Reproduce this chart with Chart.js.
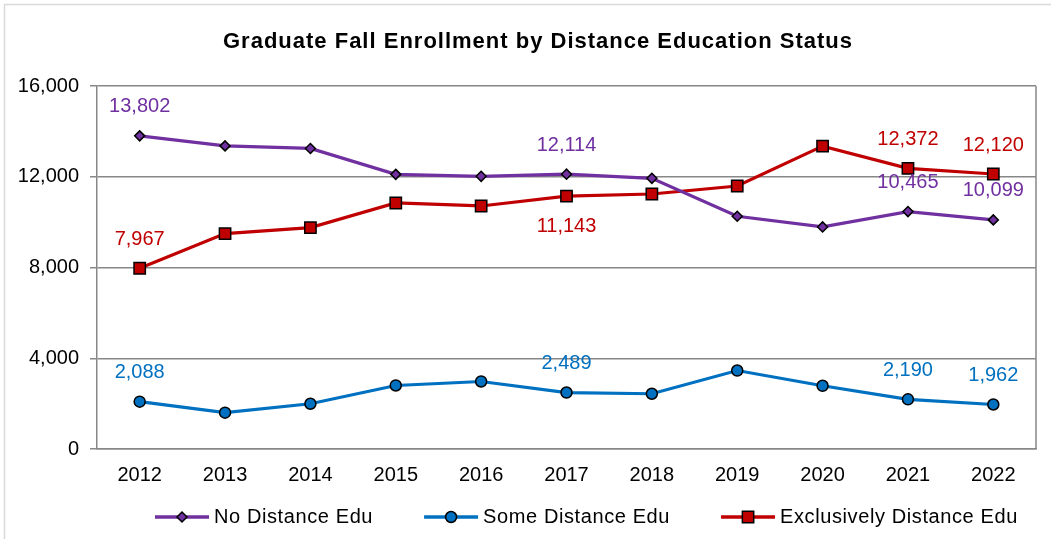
<!DOCTYPE html>
<html>
<head>
<meta charset="utf-8">
<title>Graduate Fall Enrollment by Distance Education Status</title>
<script src="https://cdn.jsdelivr.net/npm/chart.js@4.4.1/dist/chart.umd.min.js"></script>
<style>
  html, body { margin: 0; padding: 0; background: #fff; }
  canvas { display: block; }
</style>
</head>
<body>
<canvas id="enrollChart" width="1051" height="539"></canvas>
<script>
const chartTitle = "Graduate Fall Enrollment by Distance Education Status";
const years = ["2012", "2013", "2014", "2015", "2016", "2017", "2018", "2019", "2020", "2021", "2022"];
const noDistance = [13802, 13360, 13248, 12105, 12018, 12114, 11930, 10259, 9789, 10465, 10099];
const someDistance = [2088, 1600, 1995, 2800, 2976, 2489, 2435, 3459, 2787, 2190, 1962];
const exclusivelyDistance = [7967, 9495, 9758, 10844, 10712, 11143, 11240, 11591, 13349, 12372, 12120];
const yTicks = [0, 4000, 8000, 12000, 16000];

// years that get a value label, and which of them sit under the point
const labeledYears = ["2012", "2017", "2021", "2022"];
const labelsBelowRed = ["2017"];

const FONT = '"Liberation Sans", Arial, sans-serif';
const GRID = "#878787";

function fmt(v) {
  return String(v).replace(/\B(?=(\d{3})+(?!\d))/g, ",");
}

// value labels above/below selected points
const valueLabels = {
  id: "valueLabels",
  afterDatasetsDraw(chart) {
    const ctx = chart.ctx;
    ctx.save();
    ctx.font = "20px " + FONT;
    ctx.textAlign = "center";
    ctx.textBaseline = "middle";
    chart.data.datasets.forEach((ds, i) => {
      const meta = chart.getDatasetMeta(i);
      ds.data.forEach((v, j) => {
        if (!labeledYears.includes(years[j])) return;
        const pt = meta.data[j];
        const below = (ds.labelsBelow || []).includes(years[j]);
        ctx.fillStyle = ds.borderColor;
        ctx.fillText(fmt(v), pt.x, pt.y + (below ? 30 : -29));
      });
    });
    ctx.restore();
  }
};

// white page, light outer frame, title and the right edge of the plot
const frame = {
  id: "frame",
  beforeDraw(chart) {
    const ctx = chart.ctx;
    ctx.save();
    ctx.fillStyle = "#fff";
    ctx.fillRect(0, 0, chart.width, chart.height);
    ctx.strokeStyle = "#d9d9d9";
    ctx.lineWidth = 1.5;
    ctx.strokeRect(4.5, 4.5, chart.width + 20, chart.height + 20);

    ctx.fillStyle = "#000";
    ctx.font = "bold 22px " + FONT;
    ctx.letterSpacing = "1px";
    ctx.textAlign = "center";
    ctx.textBaseline = "middle";
    ctx.fillText(chartTitle, 538, 42);
    ctx.restore();
  },
  afterDraw(chart) {
    const a = chart.chartArea;
    const ctx = chart.ctx;
    ctx.save();
    ctx.strokeStyle = GRID;
    ctx.lineWidth = 1.5;
    ctx.beginPath();
    ctx.moveTo(a.right, a.top);
    ctx.lineTo(a.right, a.bottom);
    ctx.stroke();
    ctx.restore();
  }
};

// legend: line with the marker on it, then the series name
const lineLegend = {
  id: "lineLegend",
  afterDraw(chart) {
    const ctx = chart.ctx;
    const y = 517;
    const swatchW = 54;
    let x = 155;
    ctx.save();
    ctx.font = "20px " + FONT;
    ctx.textBaseline = "middle";
    chart.data.datasets.forEach((ds) => {
      ctx.letterSpacing = "0px";
      ctx.strokeStyle = ds.borderColor;
      ctx.lineWidth = 3.5;
      ctx.beginPath();
      ctx.moveTo(x, y);
      ctx.lineTo(x + swatchW, y);
      ctx.stroke();
      ctx.fillStyle = ds.backgroundColor;
      ctx.strokeStyle = "#000";
      ctx.lineWidth = 1.5;
      Chart.helpers.drawPoint(ctx, {
        pointStyle: ds.pointStyle,
        radius: ds.pointRadius,
        borderWidth: 1.5,
        rotation: 0
      }, x + swatchW / 2, y);
      ctx.fillStyle = "#000";
      ctx.textAlign = "left";
      ctx.letterSpacing = "0.6px";
      const tx = x + swatchW + 5;
      ctx.fillText(ds.label, tx, y);
      x = tx + ctx.measureText(ds.label).width + 51;
    });
    ctx.restore();
  }
};

function series(label, data, color, style, radius) {
  return {
    label: label,
    data: data,
    borderColor: color,
    backgroundColor: color,
    borderWidth: 3.2,
    tension: 0,
    pointStyle: style,
    pointRadius: radius,
    pointHoverRadius: radius,
    pointBackgroundColor: color,
    pointBorderColor: "#000",
    pointBorderWidth: 1.5
  };
}

const purple = series("No Distance Edu", noDistance, "#7030A0", "rectRot", 5);
const blue = series("Some Distance Edu", someDistance, "#0070C0", "circle", 5.5);
const red = series("Exclusively Distance Edu", exclusivelyDistance, "#C00000", "rect", 8);
red.labelsBelow = labelsBelowRed;

new Chart(document.getElementById("enrollChart"), {
  type: "line",
  data: {
    labels: years,
    datasets: [purple, blue, red]
  },
  plugins: [frame, valueLabels, lineLegend],
  options: {
    responsive: false,
    animation: false,
    layout: { padding: { left: 0, right: 15, top: 86, bottom: 40 } },
    plugins: {
      legend: { display: false },
      tooltip: { enabled: false },
      title: { display: false }
    },
    scales: {
      x: {
        offset: true,
        grid: { display: false, drawTicks: false },
        border: { display: true, color: GRID, width: 1.5 },
        ticks: { color: "#000", font: { family: FONT, size: 20 }, padding: 14, maxRotation: 0 },
        afterFit(scale) { scale.height = 50; }
      },
      y: {
        min: 0,
        max: 16000,
        afterBuildTicks(scale) { scale.ticks = yTicks.map(v => ({ value: v })); },
        grid: { color: GRID, lineWidth: 1.5, tickLength: 7 },
        border: { display: true, color: GRID, width: 1.5 },
        ticks: {
          color: "#000",
          font: { family: FONT, size: 20 },
          padding: 11,
          callback: (v) => fmt(v)
        },
        afterFit(scale) { scale.width = 97; }
      }
    }
  }
});
</script>
</body>
</html>
